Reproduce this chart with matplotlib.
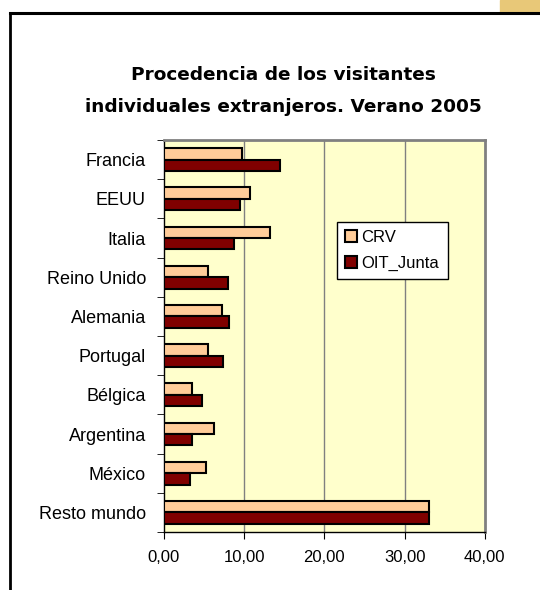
import numpy as np
import matplotlib.pyplot as plt
from matplotlib.lines import Line2D
from matplotlib.patches import Rectangle

plt.rcParams['font.family'] = ['Liberation Sans', 'DejaVu Sans']

paises = ["Francia", "EEUU", "Italia", "Reino Unido", "Alemania",
          "Portugal", "Bélgica", "Argentina", "México", "Resto mundo"]
crv = [9.75, 10.75, 13.25, 5.5, 7.25, 5.5, 3.45, 6.2, 5.2, 33.1]
oit_junta = [14.5, 9.45, 8.75, 8.0, 8.05, 7.3, 4.8, 3.5, 3.2, 33.1]
xticks = [0, 10, 20, 30, 40]
xlabels = ["0,00", "10,00", "20,00", "30,00", "40,00"]

fig = plt.figure(figsize=(5.4, 5.9), dpi=100)
ax = fig.add_axes([0.3037, 0.0983, 0.594, 0.6644])
ax.set_facecolor("#FFFFCC")

y = np.arange(len(paises))
h = 0.29
ax.barh(y - h / 2, crv, height=h, color="#FFCC99", edgecolor="black", lw=1.5, label="CRV", zorder=3)
ax.barh(y + h / 2, oit_junta, height=h, color="#800000", edgecolor="black", lw=1.5, label="OIT_Junta", zorder=3)

ax.set_xlim(0, 40)
ax.set_ylim(len(paises) - 0.5, -0.5)
ax.set_xticks(xticks)
ax.set_xticklabels(xlabels, fontsize=12)
ax.set_yticks(y)
ax.set_yticklabels(paises, fontsize=13)
ax.set_yticks(np.arange(len(paises) + 1) - 0.5, minor=True)
ax.tick_params(axis="y", which="major", length=0, pad=13)
ax.tick_params(axis="y", which="minor", length=5, direction="out", color="black")
ax.tick_params(axis="x", length=5, direction="out", pad=8)

for v in xticks[1:-1]:
    ax.axvline(v, color="#808080", lw=1, zorder=1)

for s in ["top", "right"]:
    ax.spines[s].set_color("#808080")
    ax.spines[s].set_linewidth(2)
for s in ["left", "bottom"]:
    ax.spines[s].set_color("black")
    ax.spines[s].set_linewidth(1)

leg = ax.legend(loc="upper left", bbox_to_anchor=(0.538, 0.792), fontsize=12,
                frameon=True, fancybox=False, edgecolor="black", framealpha=1,
                handlelength=0.7, handleheight=0.7, handletextpad=0.3,
                borderpad=0.5, labelspacing=0.65, borderaxespad=0)
leg.get_frame().set_linewidth(1)

fig.text(0.524, 0.846, "Procedencia de los visitantes\nindividuales extranjeros. Verano 2005",
         ha="center", va="center", fontsize=13.3, fontweight="bold", linespacing=2.0,
         family=["DejaVu Sans"])

# outer chart frame
fig.add_artist(Line2D([10 / 540, 1], [1 - 13 / 590] * 2, color="black", lw=2.2))
fig.add_artist(Line2D([10 / 540] * 2, [0, 1 - 13 / 590], color="black", lw=2))
fig.add_artist(Rectangle((500 / 540, 1 - 12 / 590), 40 / 540, 12 / 590,
                         transform=fig.transFigure, color="#E8C878", zorder=0))

fig.savefig("out.png", dpi=100)
